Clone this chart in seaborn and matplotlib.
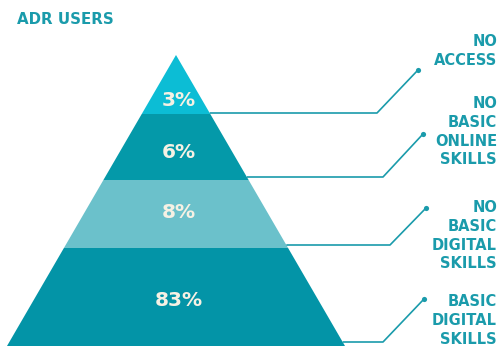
import matplotlib
matplotlib.use("Agg")
import matplotlib.pyplot as plt
import seaborn as sns
import pandas as pd

# ---- data ----
values = [3, 6, 8, 83]
value_labels = ["3%", "6%", "8%", "83%"]
categories = ["NO\nACCESS", "NO\nBASIC\nONLINE\nSKILLS", "NO\nBASIC\nDIGITAL\nSKILLS", "BASIC\nDIGITAL\nSKILLS"]
title = "ADR USERS"

# ---- layout / style ----
layer_colors = ["#0CBDD5", "#0499A9", "#6BC1CB", "#0394A7"]
text_teal = "#1A9BAB"
pct_color = "#F6F1E4"
apex = (176, 55)
base_y, base_left, base_right = 346, 7, 345
bounds = [55, 114, 180, 248, 346]           # layer boundaries (pixel rows)
pct_y = [100, 152, 212, 300]
leader_y = [113, 177, 245, 342]
leader_knee = [377, 383, 390, 383]
leader_dot = [(418, 70), (423, 134), (426, 208), (424, 299)]
label_top = [42, 104, 208, 302]
line_step = 18.6

sns.set_theme(style="white")
plt.rcParams["font.family"] = ["DejaVu Sans"]

fig = plt.figure(figsize=(5.04, 3.52), dpi=100)
ax = fig.add_axes([0, 0, 1, 1])

H = base_y - apex[1]
half = (base_right - base_left) / 2

def edges(y):
    w = (y - apex[1]) / H * half
    return apex[0] - w, apex[0] + w

for i, v in enumerate(values):
    y0, y1 = bounds[i], bounds[i + 1]
    l0, r0 = edges(y0)
    l1, r1 = edges(y1)
    ax.fill([l0, r0, r1, l1], [y0, y0, y1, y1], color=layer_colors[i], lw=0, zorder=1)
    ax.text(apex[0] + 3, pct_y[i], value_labels[i], ha="center", va="center",
            fontsize=14.5, fontweight="bold", color=pct_color, zorder=3)

# leader lines
for i in range(len(values)):
    y = leader_y[i]
    _, xr = edges(y)
    xs = [xr, leader_knee[i], leader_dot[i][0]]
    ys = [y, y, leader_dot[i][1]]
    ax.plot(xs, ys, color=text_teal, lw=1.2, zorder=2, solid_capstyle="butt")

dots = pd.DataFrame({"x": [d[0] for d in leader_dot], "y": [d[1] for d in leader_dot]})
sns.scatterplot(data=dots, x="x", y="y", ax=ax, color=text_teal, s=14, linewidth=0, zorder=4)
ax.set_xlim(0, 504)
ax.set_ylim(352, 0)
ax.axis("off")

# category labels
for i, lab in enumerate(categories):
    for j, line in enumerate(lab.split("\n")):
        ax.text(497, label_top[i] + j * line_step, line, ha="right", va="center",
                fontsize=10.5, fontweight="bold", color=text_teal)

ax.text(17, 19, title, ha="left", va="center", fontsize=10.8,
        fontweight="bold", color=text_teal)

fig.savefig("out.png", dpi=100)
